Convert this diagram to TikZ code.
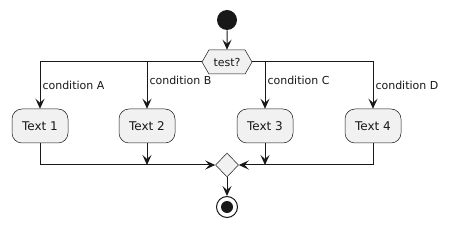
\documentclass[tikz,border=0pt]{standalone}
\usepackage{fontspec}
\setmainfont{DejaVu Sans}
\usetikzlibrary{arrows.meta, shapes.geometric, shapes.symbols}
\definecolor{umlline}{HTML}{181818}
\definecolor{umlfill}{HTML}{F1F1F1}

\begin{document}
\begin{tikzpicture}[x=1pt, y=-1pt, ->, >={Stealth[length=10pt, width=9pt, inset=4pt]}, line width=1pt, color=umlline,
  action/.style={draw=umlline, line width=0.5pt, fill=umlfill, rounded corners=10pt, minimum width=56pt, minimum height=34pt, inner sep=0pt, font=\fontsize{12}{14}\selectfont},
  test/.style={signal, signal to=west and east, signal pointer angle=120, draw=umlline, line width=0.5pt, fill=umlfill, minimum width=50pt, minimum height=24pt, inner sep=0pt, font=\fontsize{11}{13}\selectfont},
  merge/.style={diamond, draw=umlline, line width=0.5pt, fill=umlfill, minimum width=23pt, minimum height=24pt, inner sep=0pt},
  startnode/.style={circle, fill=umlline, minimum size=20pt, inner sep=0pt},
  stopnode/.style={circle, draw=umlline, line width=1pt, fill=white, minimum size=21pt, inner sep=0pt, path picture={\fill[umlline] (path picture bounding box.center) circle (6pt);}},
  cond/.style={anchor=west, inner sep=2pt, font=\fontsize{11}{13}\selectfont}]
  \useasboundingbox (0,0) rectangle (454,229);

  \node[startnode] (start) at (227,20)  {};
  \node[test]      (test)  at (227,62)  {test?};
  \node[action]    (t1)    at (40,126)  {Text 1};
  \node[action]    (t2)    at (147,126) {Text 2};
  \node[action]    (t3)    at (265,126) {Text 3};
  \node[action]    (t4)    at (373,126) {Text 4};
  \node[merge]     (merge) at (227,165) {};
  \node[stopnode]  (stop)  at (227,207) {};

  \draw (start) -- (test);
  \draw (test.west) -| node[cond, pos=0.755] {condition A} (t1);
  \draw (test.west) -| node[cond, pos=0.70]  {condition B} (t2);
  \draw (test.east) -| node[cond, pos=0.70]  {condition C} (t3);
  \draw (test.east) -| node[cond, pos=0.755] {condition D} (t4);

  \draw (t1) |- (merge);
  \draw (t4) |- (merge);
  \draw (t2) -- (t2 |- merge);
  \draw (t3) -- (t3 |- merge);
  \draw (merge) -- (stop);
\end{tikzpicture}
\end{document}
